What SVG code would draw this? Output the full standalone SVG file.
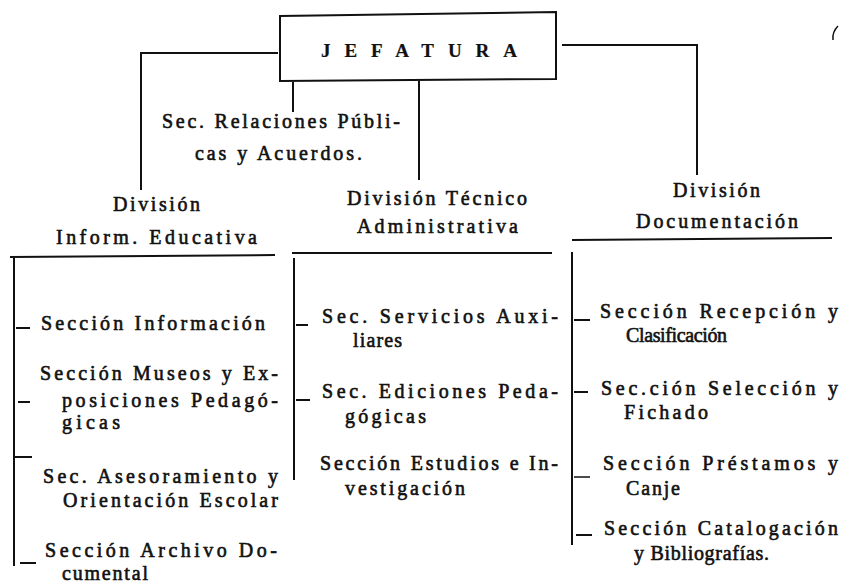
<svg xmlns="http://www.w3.org/2000/svg" width="843" height="585" viewBox="0 0 843 585">
<style>
text{font-family:"Liberation Serif","Times New Roman",serif;font-size:20px;fill:#111;stroke:#111;stroke-width:0.6}
.t{font-weight:bold;font-size:19px;stroke-width:0.2}
.ln{fill:none;stroke:#111;stroke-width:2}
.thin{fill:none;stroke:#111;stroke-width:1.5}
</style>
<rect width="843" height="585" fill="#fff"/>
<g id="connectors">
<path class="ln" d="M278,53 H141 V190"/>
<path class="ln" d="M562,45 H697 V175"/>
<path class="ln" d="M419,81 V180"/>
<path class="ln" d="M293,82 V112"/>
<path class="ln" d="M10,257 L275,255"/>
<path class="ln" d="M292,253 H552"/>
<path class="ln" d="M572,240 L832,238"/>
<path class="ln" d="M14,258 V566"/>
<path class="ln" d="M16,328 H30 M18,402 H30 M14,457 H32 M20,563 H36"/>
<path class="ln" d="M294,258 V480"/>
<path class="ln" d="M296,325 H308 M296,400 H310"/>
<path class="ln" d="M572,252 V545"/>
<path class="ln" d="M574,320 H590 M574,392 H588 M576,535 H592"/>
<path class="thin" d="M574,477 H590"/>
<path class="thin" d="M838,26 Q832,32 833,40"/>
</g>
<g id="jefatura">
<path class="ln" d="M280,16 L556,12 V79 L280,81 Z"/>
<text class="t" x="321" y="57" textLength="196" lengthAdjust="spacing">JEFATURA</text>
</g>
<g id="sec-relaciones">
<text x="162" y="128" textLength="238" lengthAdjust="spacing">Sec. Relaciones Públi-</text>
<text x="195" y="160" textLength="167" lengthAdjust="spacing">cas y Acuerdos.</text>
</g>
<g id="div-informacion">
<text x="113" y="211" textLength="87" lengthAdjust="spacing">División</text>
<text x="56" y="244" textLength="201" lengthAdjust="spacing">Inform. Educativa</text>
</g>
<g id="div-tecnico">
<text x="347" y="205" textLength="180" lengthAdjust="spacing">División Técnico</text>
<text x="357" y="233" textLength="161" lengthAdjust="spacing">Administrativa</text>
</g>
<g id="div-documentacion">
<text x="673" y="197" textLength="87" lengthAdjust="spacing">División</text>
<text x="636" y="228" textLength="162" lengthAdjust="spacing">Documentación</text>
</g>
<g id="sec-informacion">
<text x="41" y="330" textLength="224" lengthAdjust="spacing">Sección Información</text>
</g>
<g id="sec-museos">
<text x="40" y="380" textLength="238" lengthAdjust="spacing">Sección Museos y Ex-</text>
<text x="62" y="407" textLength="216" lengthAdjust="spacing">posiciones Pedagó-</text>
<text x="62" y="429" textLength="58" lengthAdjust="spacing">gicas</text>
</g>
<g id="sec-asesoramiento">
<text x="43" y="483" textLength="235" lengthAdjust="spacing">Sec. Asesoramiento y</text>
<text x="63" y="507" textLength="215" lengthAdjust="spacing">Orientación Escolar</text>
</g>
<g id="sec-archivo">
<text x="45" y="557" textLength="232" lengthAdjust="spacing">Sección Archivo Do-</text>
<text x="62" y="580" textLength="86" lengthAdjust="spacing">cumental</text>
</g>
<g id="sec-servicios">
<text x="322" y="323" textLength="236" lengthAdjust="spacing">Sec. Servicios Auxi-</text>
<text x="353" y="347" textLength="49" lengthAdjust="spacing">liares</text>
</g>
<g id="sec-ediciones">
<text x="322" y="398" textLength="236" lengthAdjust="spacing">Sec. Ediciones Peda-</text>
<text x="345" y="423" textLength="81" lengthAdjust="spacing">gógicas</text>
</g>
<g id="sec-estudios">
<text x="320" y="470" textLength="238" lengthAdjust="spacing">Sección Estudios e In-</text>
<text x="345" y="495" textLength="120" lengthAdjust="spacing">vestigación</text>
</g>
<g id="sec-recepcion">
<text x="600" y="318" textLength="238" lengthAdjust="spacing">Sección Recepción y</text>
<text x="626" y="342" textLength="101" lengthAdjust="spacing">Clasificación</text>
</g>
<g id="sec-seleccion">
<text x="601" y="395" textLength="237" lengthAdjust="spacing">Sec.ción Selección y</text>
<text x="624" y="419" textLength="84" lengthAdjust="spacing">Fichado</text>
</g>
<g id="sec-prestamos">
<text x="603" y="470" textLength="235" lengthAdjust="spacing">Sección Préstamos y</text>
<text x="626" y="495" textLength="54" lengthAdjust="spacing">Canje</text>
</g>
<g id="sec-catalogacion">
<text x="604" y="535" textLength="234" lengthAdjust="spacing">Sección Catalogación</text>
<text x="634" y="560" textLength="135" lengthAdjust="spacing">y Bibliografías.</text>
</g>
</svg>
